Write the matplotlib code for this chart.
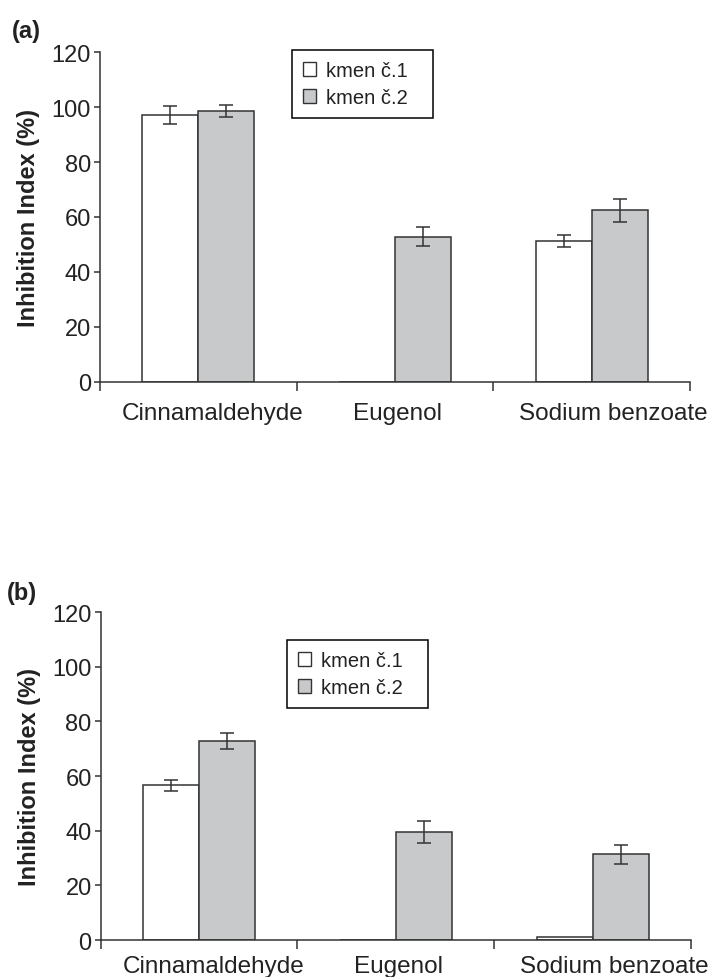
import numpy as np
import matplotlib.pyplot as plt
from matplotlib.patches import Patch

plt.rcParams["font.family"] = ["Liberation Sans", "DejaVu Sans"]

# =====================================================
# DATA
# =====================================================
categories = ["Cinnamaldehyde", "Eugenol", "Sodium benzoate"]
series_names = ["kmen č.1", "kmen č.2"]

# panel (a)
a_strain1 = [97.2, 0.0, 51.3]
a_strain1_err = [3.3, 0.0, 2.3]
a_strain2 = [98.7, 52.9, 62.4]
a_strain2_err = [2.2, 3.4, 4.2]

# panel (b)
b_strain1 = [56.6, 0.0, 1.2]
b_strain1_err = [2.1, 0.0, 0.0]
b_strain2 = [72.7, 39.4, 31.3]
b_strain2_err = [2.9, 4.0, 3.4]

y_ticks = [0, 20, 40, 60, 80, 100, 120]

EDGE = "#333333"
GREY = "#c8c9cb"
TXT = "#222222"

# category labels in the original sit a bit right of the group centre
LABEL_SHIFT = [0.075, 0.015, 0.11]


# =====================================================
# ONE PANEL
# =====================================================
def draw_panel(ax, s1, e1, s2, e2, legend_box, label_pad):

    x = np.arange(len(categories)) + 0.5
    w = 0.285

    ax.bar(x - w, s1, width=w, align="edge", color="white",
           edgecolor=EDGE, linewidth=1.1, zorder=2)
    ax.bar(x, s2, width=w, align="edge", color=GREY,
           edgecolor=EDGE, linewidth=1.1, zorder=2)

    # error bars only where there is one
    for xs, vals, errs in [(x - w / 2, s1, e1), (x + w / 2, s2, e2)]:
        idx = [i for i, e in enumerate(errs) if e > 0]
        ax.errorbar([xs[i] for i in idx], [vals[i] for i in idx],
                    yerr=[errs[i] for i in idx], fmt="none",
                    ecolor=EDGE, elinewidth=1.1, capsize=4.8,
                    capthick=1.1, zorder=3)

    ax.set_xlim(0, len(categories))
    ax.set_ylim(0, 120)
    ax.set_yticks(y_ticks)

    # boundary ticks, labels in between
    ax.set_xticks(np.arange(len(categories) + 1))
    ax.set_xticklabels([])
    ax.set_xticks(x + np.array(LABEL_SHIFT), minor=True)
    ax.set_xticklabels(categories, minor=True)
    ax.tick_params(axis="x", which="major", length=6.5, width=1.1,
                   color=EDGE)
    ax.tick_params(axis="x", which="minor", length=0, pad=label_pad,
                   labelsize=17.5, labelcolor=TXT)
    ax.tick_params(axis="y", length=4.5, width=1.1, color=EDGE,
                   pad=2, labelsize=17, labelcolor=TXT)

    for side in ["top", "right"]:
        ax.spines[side].set_visible(False)
    for side in ["left", "bottom"]:
        ax.spines[side].set_color(EDGE)
        ax.spines[side].set_linewidth(1.1)

    ax.set_ylabel("Inhibition Index (%)", fontsize=17, fontweight="bold",
                  color=TXT, labelpad=8)

    handles = [Patch(facecolor="white", edgecolor=EDGE, linewidth=1.0),
               Patch(facecolor=GREY, edgecolor=EDGE, linewidth=1.0)]
    leg = ax.legend(handles, series_names, loc="upper left",
                    bbox_to_anchor=legend_box, mode="expand",
                    fontsize=14.5,
                    handlelength=0.65, handleheight=0.65,
                    handletextpad=0.5, labelspacing=0.4,
                    borderpad=0.55, borderaxespad=0,
                    fancybox=False, framealpha=1, edgecolor="black")
    leg.get_frame().set_linewidth(1.1)
    for t in leg.get_texts():
        t.set_color(TXT)


# =====================================================
# ====================== MAIN =========================
# =====================================================
fig = plt.figure(figsize=(7.12, 9.78), dpi=100)

ax_a = fig.add_axes([0.1404, 0.6084, 0.8286, 0.3374])
ax_b = fig.add_axes([0.1414, 0.0378, 0.8291, 0.3354])

draw_panel(ax_a, a_strain1, a_strain1_err, a_strain2, a_strain2_err,
           legend_box=(0.3254, 1.006, 0.239, 0), label_pad=14.5)
draw_panel(ax_b, b_strain1, b_strain1_err, b_strain2, b_strain2_err,
           legend_box=(0.3156, 0.9146, 0.239, 0), label_pad=10.5)

fig.text(12 / 712, 1 - 20 / 978, "(a)", fontsize=17, fontweight="bold",
         color=TXT, va="top", ha="left")
fig.text(7 / 712, 1 - 582 / 978, "(b)", fontsize=17, fontweight="bold",
         color=TXT, va="top", ha="left")

fig.savefig("out.png", dpi=100)
